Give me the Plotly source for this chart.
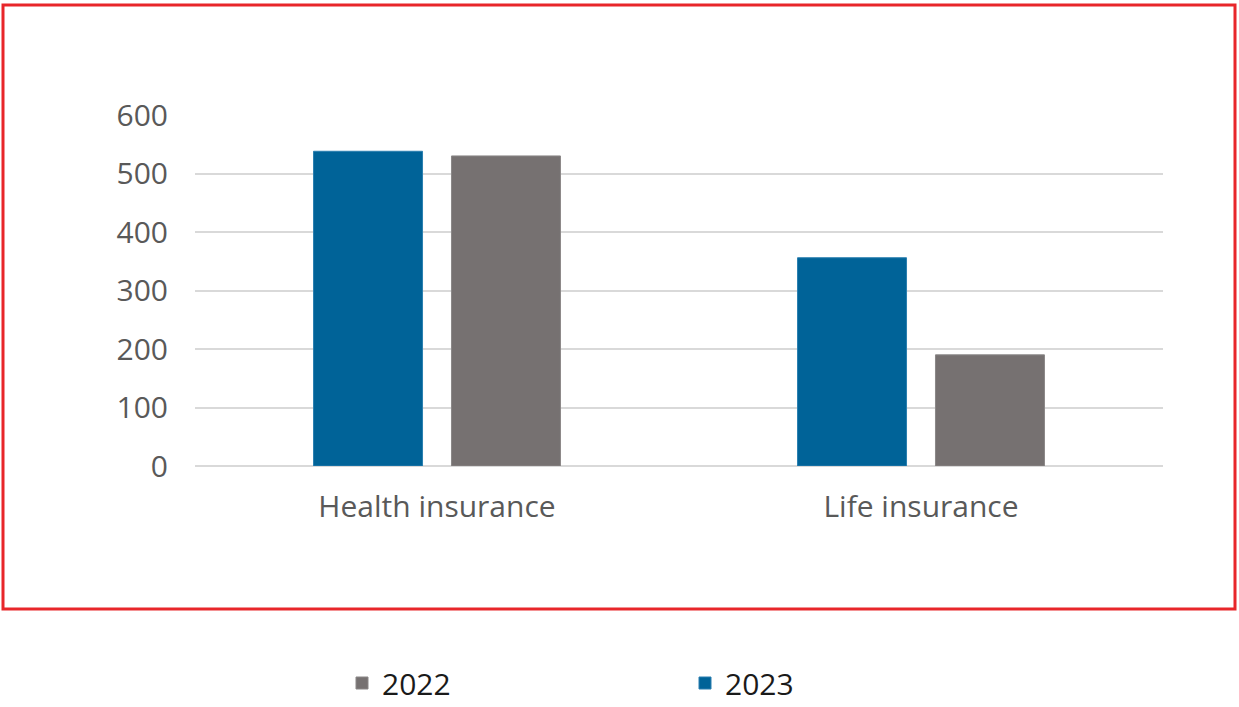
import plotly.graph_objects as go

categories = ["Health insurance", "Life insurance"]
values_2023 = [538, 356]
values_2022 = [530, 190]
y_ticks = [0, 100, 200, 300, 400, 500, 600]

FONT = "Open Sans"
BLUE = "#006398"
GRAY = "#767171"

fig = go.Figure()
fig.add_trace(go.Bar(name="2023", x=categories, y=values_2023,
                     marker=dict(color=BLUE, line=dict(color="#2a7fb0", width=1))))
fig.add_trace(go.Bar(name="2022", x=categories, y=values_2022,
                     marker=dict(color=GRAY, line=dict(color="#8a8787", width=1))))

L, R, T, B = 195, 76, 115, 241
W, H = 1239, 707
pw, ph = W - L - R, H - T - B

def px(x):
    return (x - L) / pw

def py(y):
    return (H - B - y) / ph

fig.update_layout(
    width=W, height=H,
    margin=dict(l=L, r=R, t=T, b=B, pad=0, autoexpand=False),
    paper_bgcolor="white", plot_bgcolor="white",
    barmode="group", bargap=0.43, bargroupgap=0.21,
    font=dict(family=FONT, color="#595959", size=30),
    xaxis=dict(showgrid=False, showline=False, zeroline=False,
               tickfont=dict(size=30, color="#595959"),
               ticks="", ticklabelstandoff=20),
    yaxis=dict(range=[0, 600], tickvals=y_ticks, showgrid=True,
               gridcolor="#d9d9d9", gridwidth=2, zeroline=True,
               zerolinecolor="#d9d9d9", zerolinewidth=2, showline=False,
               ticks="", ticklabelstandoff=26,
               tickfont=dict(size=30, color="#595959")),
    showlegend=True,
    legend=dict(orientation="h", traceorder="reversed",
                x=px(342), xanchor="left", y=py(657), yanchor="top",
                entrywidth=298, entrywidthmode="pixels",
                font=dict(size=30, color="#1a1a1a", family=FONT),
                bgcolor="rgba(0,0,0,0)"),
    shapes=[dict(type="rect", xref="paper", yref="paper",
                 x0=px(3), x1=px(1235), y0=py(609), y1=py(5),
                 line=dict(color="#e8262a", width=3), layer="above")],
)

fig.write_html("out.html", config={"displayModeBar": False},
               post_script="document.body.style.margin='0';document.body.style.overflow='hidden';")
